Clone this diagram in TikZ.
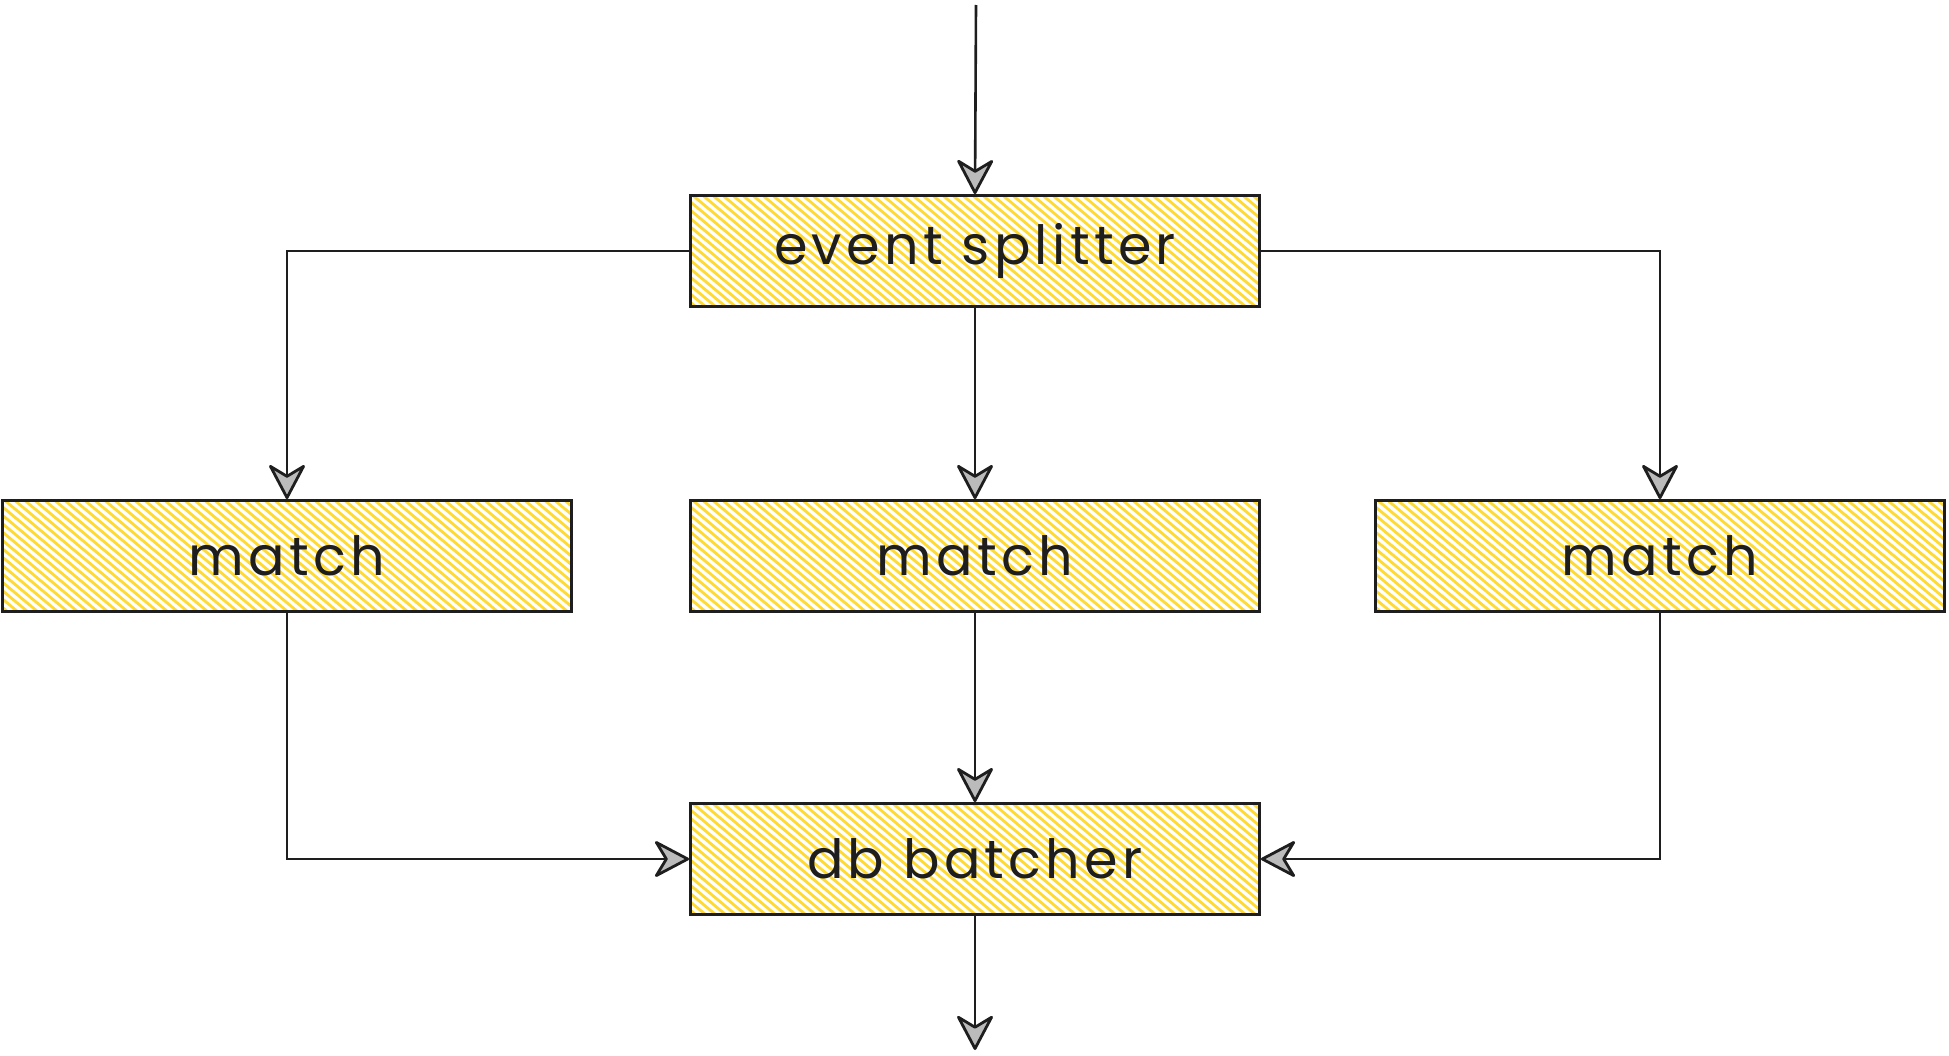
\documentclass[tikz,border=0pt]{standalone}
\usepackage{fontspec}
\setmainfont{Poppins}[LetterSpace=8]
\usetikzlibrary{arrows.meta,calc}
\definecolor{hatchyellow}{HTML}{FFDA33}
\definecolor{ink}{HTML}{1E1E1E}
\tikzset{
  hatched/.style={path picture={
    \foreach \k in {-16,...,60}{
      \draw[hatchyellow,line width=2.8pt]
        ($(path picture bounding box.north west)+(\k*10pt,2pt)$) -- ++(160pt,-134pt);
    }}},
  stagebox/.style={draw=ink, line width=2.8pt, minimum width=569pt,
    minimum height=111pt, inner sep=0pt, hatched, text=ink,
    font=\fontsize{54}{60}\selectfont},
  flow/.style={draw=ink, line width=2.6pt,
    -{Stealth[length=38pt, width=40pt, inset=12pt, line width=2.8pt, round, fill=ink!30]}},
}
\begin{document}
\begin{tikzpicture}[x=1pt,y=-1pt]
  \useasboundingbox (0,0) rectangle (1949,1055);

  \coordinate (src) at (976,5);
  \coordinate (sink) at (975,1050);

  \node[stagebox] (split) at (975,251) {event splitter};
  \node[stagebox] (m1) at (287,556) {match};
  \node[stagebox] (m2) at (975,556) {match};
  \node[stagebox] (m3) at (1660,556) {match};
  \node[stagebox] (db) at (975,859) {db batcher};

  \draw[flow] (src) -- (split.north);
  \draw[flow] (split.west) -| (m1.north);
  \draw[flow] (split.south) -- (m2.north);
  \draw[flow] (split.east) -| (m3.north);
  \draw[flow] (m1.south) |- (db.west);
  \draw[flow] (m2.south) -- (db.north);
  \draw[flow] (m3.south) |- (db.east);
  \draw[flow] (db.south) -- (sink);
\end{tikzpicture}
\end{document}
